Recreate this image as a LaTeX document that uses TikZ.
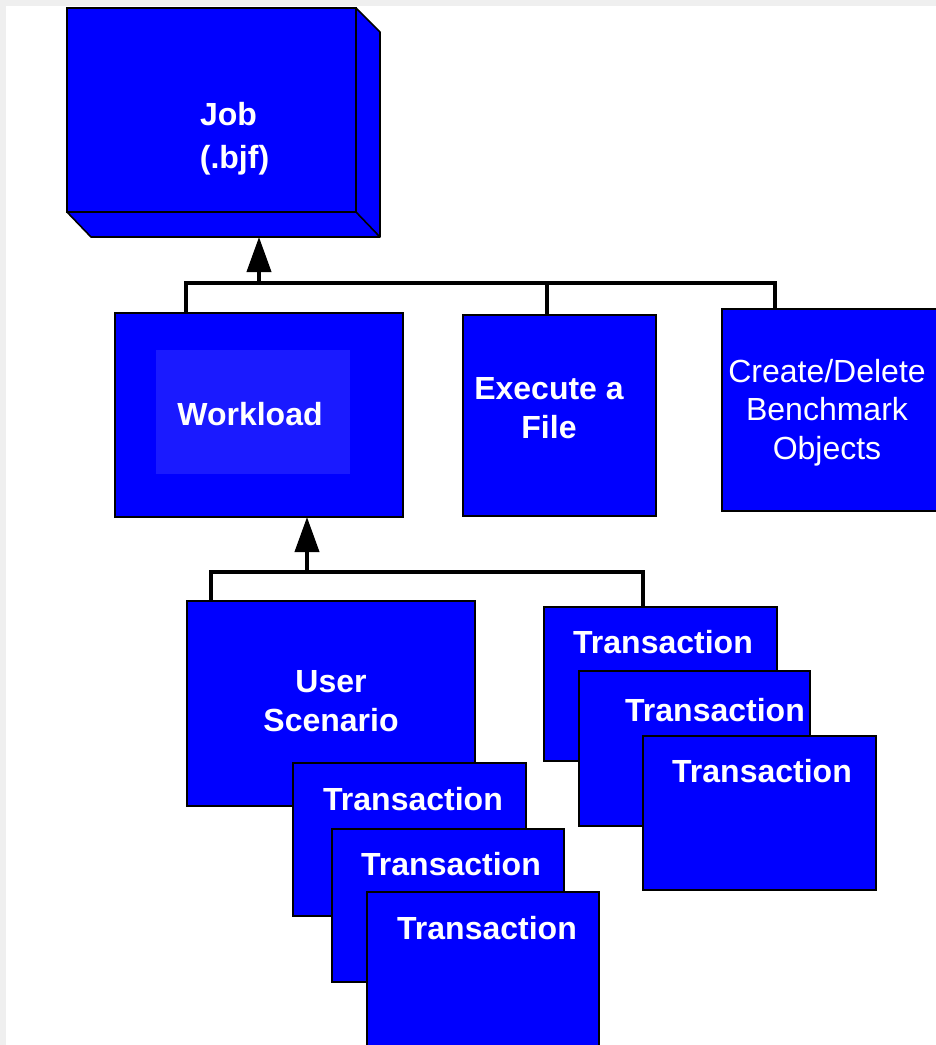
\documentclass[tikz,border=0pt]{standalone}
\usepackage{fontspec}
\setmainfont{Liberation Sans}
\usetikzlibrary{arrows.meta}
\definecolor{boxblue}{HTML}{0000FF}
\definecolor{innerblue}{HTML}{1A1AFF}
\definecolor{framegray}{HTML}{EFEFEF}
\begin{document}
\begin{tikzpicture}[x=1pt,y=-1pt,
  box/.style={draw=black,line width=1.6pt,fill=boxblue,inner sep=0pt,outer sep=0pt},
  innerbox/.style={fill=innerblue,inner sep=0pt,outer sep=0pt},
  txt/.style={text=white,font=\fontsize{32}{39}\selectfont\bfseries,inner sep=0pt,align=center},
  txtreg/.style={text=white,font=\fontsize{32}{38.5}\selectfont,inner sep=0pt,align=center},
  conn/.style={draw=black,line width=4pt},
  uparrow/.style={-{Triangle[length=35pt,width=24pt]}}
]
\useasboundingbox (0,0) rectangle (936,1045);
\clip (0,0) rectangle (936,1045);
\fill[framegray] (0,0) rectangle (936,1045);
\fill[white] (6,6) rectangle (940,1050);

% Job (3D box)
\filldraw[fill=boxblue,draw=black,line width=1.6pt,line join=round]
  (356,8) -- (380,32) -- (380,237) -- (91,237) -- (67,212) -- (356,212) -- cycle;
\draw[black,line width=1.6pt] (356,212) -- (380,237);
\node[box,minimum width=289pt,minimum height=204pt] (job) at (211.5,110) {};
\node[txt] (jobt1) at (228.5,114) {Job};
\node[txt] (jobt2) at (234.5,160) {(.bjf)};
\coordinate (jobbase) at (259,237);

% second row
\node[box,minimum width=288pt,minimum height=204pt] (wl) at (259,415) {};
\node[innerbox,minimum width=194pt,minimum height=124pt] (wlin) at (253,412) {};
\node[txt] (wlt) at (250,414) {Workload};

\node[box,minimum width=193pt,minimum height=201pt] (ex) at (559.5,415.5) {};
\node[txt] (ext) at (549,408) {Execute a\\File};

\node[box,minimum width=223pt,minimum height=202pt] (cr) at (833.5,410) {};
\node[txtreg] (crt) at (827,412.5) {Create/Delete\\Benchmark\\Objects};

% bus 1
\coordinate (d1) at (186,283);
\coordinate (jb) at (259,283);
\coordinate (d2) at (547,283);
\coordinate (d3) at (775,283);
\draw[conn] (d1 |- wl.north) -- (d1) -- (d3) -- (d3 |- cr.north);
\draw[conn] (d2) -- (d2 |- ex.north);
\draw[conn,uparrow] (jb) -- (jobbase);

% third row, left stack
\node[box,minimum width=288pt,minimum height=205pt] (us) at (331,703.5) {};
\node[txt] (ust) at (331,701) {User\\Scenario};
\node[box,minimum width=233pt,minimum height=153pt] (t1) at (409.5,839.5) {};
\node[txt] (t1t) at (413,799) {Transaction};
\node[box,minimum width=232pt,minimum height=153pt] (t2) at (448,905.5) {};
\node[txt] (t2t) at (451,864) {Transaction};
\node[box,minimum width=232pt,minimum height=168pt] (t3) at (483,976) {};
\node[txt] (t3t) at (487,928) {Transaction};

% right stack
\node[box,minimum width=233pt,minimum height=154pt] (r1) at (660.5,684) {};
\node[txt] (r1t) at (663,642) {Transaction};
\node[box,minimum width=231pt,minimum height=155pt] (r2) at (694.5,748.5) {};
\node[txt] (r2t) at (715,710) {Transaction};
\node[box,minimum width=233pt,minimum height=154pt] (r3) at (759.5,813) {};
\node[txt] (r3t) at (762,771) {Transaction};

% bus 2
\coordinate (e1) at (211,572);
\coordinate (eb) at (307,572);
\coordinate (e2) at (643,572);
\draw[conn] (e1 |- us.north) -- (e1) -- (e2) -- (e2 |- r1.north);
\draw[conn,uparrow] (eb) -- (eb |- wl.south);
\end{tikzpicture}
\end{document}
